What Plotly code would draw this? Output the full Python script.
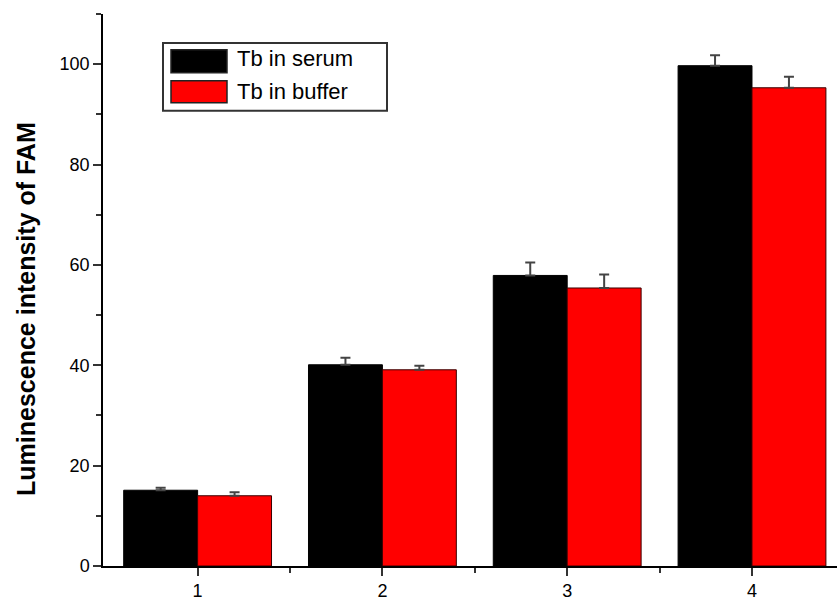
import plotly.graph_objects as go

categories = [1, 2, 3, 4]
series_names = ["Tb in serum", "Tb in buffer"]
serum_values = [15.1, 40.1, 57.9, 99.7]
serum_errors = [0.5, 1.4, 2.6, 2.1]
buffer_values = [14.0, 39.1, 55.4, 95.3]
buffer_errors = [0.7, 0.8, 2.7, 2.2]
series_colors = ["#000000", "#FF0000"]
x_minor_ticks = [1.5, 2.5, 3.5]
y_title = "Luminescence intensity of FAM"

W, H = 837, 601
ML, MR, MT, MB = 103, 0, 14, 33
PW, PH = W - ML - MR, H - MT - MB


def px(xp):
    return (xp - ML) / PW


def py(yp):
    return (H - MB - yp) / PH


fig = go.Figure()
for name, vals, errs, col, lc in [
    (series_names[0], serum_values, serum_errors, series_colors[0], "#000000"),
    (series_names[1], buffer_values, buffer_errors, series_colors[1], "#3a0000"),
]:
    fig.add_trace(go.Bar(
        x=categories, y=vals, name=name,
        marker=dict(color=col, line=dict(color=lc, width=1)),
        error_y=dict(type="data", symmetric=False, array=errs,
                     arrayminus=[0] * len(errs), color="#444444",
                     thickness=2, width=5),
        showlegend=False,
    ))

axis_font = dict(family="Liberation Sans, Arial, sans-serif", size=18, color="#000000")

fig.update_layout(
    width=W, height=H,
    margin=dict(l=ML, r=MR, t=MT, b=MB, pad=0),
    paper_bgcolor="white", plot_bgcolor="white",
    barmode="group", bargap=0.2, bargroupgap=0,
    xaxis=dict(range=[0.488, 4.46], tickmode="linear", tick0=1, dtick=1,
               showline=True, linecolor="#000000", linewidth=1.5,
               ticks="outside", ticklen=8, tickwidth=1.5, tickcolor="#333333",
               minor=dict(ticks="outside", ticklen=5, tickmode="array",
                          tickvals=x_minor_ticks,
                          tickcolor="#333333", tickwidth=1.5),
               showgrid=False, zeroline=False, tickfont=axis_font),
    yaxis=dict(range=[0, 110], tickmode="linear", tick0=0, dtick=20,
               showline=True, linecolor="#000000", linewidth=1.5,
               ticks="outside", ticklen=8, tickwidth=1.5, tickcolor="#333333",
               minor=dict(ticks="outside", ticklen=5, dtick=10,
                          tickcolor="#333333", tickwidth=1.5),
               showgrid=False, zeroline=False, tickfont=axis_font),
    font=dict(family="Liberation Sans, Arial, sans-serif"),
)

# Y-axis title
fig.add_annotation(
    xref="paper", yref="paper", x=px(26), y=py(310), text="<b>" + y_title + "</b>",
    textangle=-90, showarrow=False, xanchor="center", yanchor="middle",
    font=dict(family="Liberation Sans, Arial, sans-serif", size=25, color="#000000"),
)

# Manual legend
fig.add_shape(type="rect", xref="paper", yref="paper",
              x0=px(163), x1=px(387), y0=py(111), y1=py(43),
              line=dict(color="#333333", width=2), fillcolor="white", layer="above")
rows = [(50, 73, 59), (81, 103, 92)]
for (y0, y1, yc), name, col in zip(rows, series_names, series_colors):
    fig.add_shape(type="rect", xref="paper", yref="paper",
                  x0=px(171), x1=px(227), y0=py(y1), y1=py(y0),
                  line=dict(color="#222222", width=1.5), fillcolor=col, layer="above")
    fig.add_annotation(xref="paper", yref="paper", x=px(235), y=py(yc),
                       text=name, showarrow=False, xanchor="left", yanchor="middle",
                       font=dict(family="Liberation Sans, Arial, sans-serif",
                                 size=22, color="#000000"))

fig.write_html("out.html")
